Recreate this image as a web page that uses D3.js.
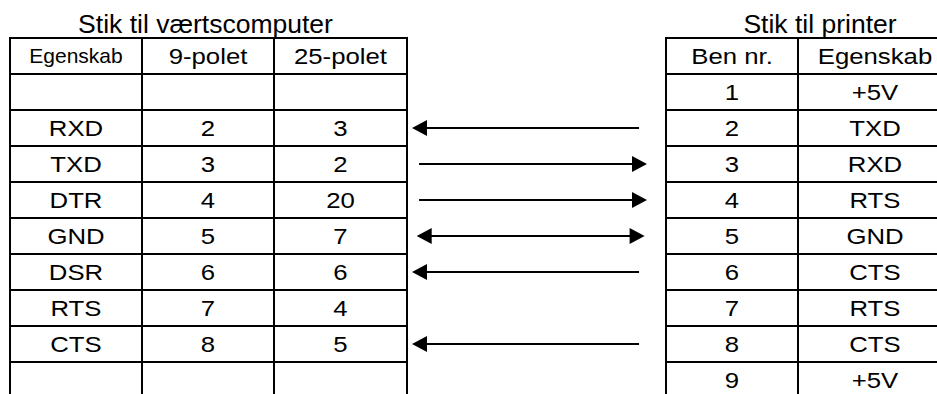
<!DOCTYPE html>
<html>
<head>
<meta charset="utf-8">
<script src="https://cdn.jsdelivr.net/npm/d3@7"></script>
<style>
  html, body { margin: 0; padding: 0; background: #fff; }
  svg { display: block; }
  text { font-family: "Liberation Sans", Arial, sans-serif; fill: #000; }
</style>
</head>
<body>
<svg id="chart" width="937" height="394"></svg>
<script>
// ---- data ----
const hostTitle = "Stik til værtscomputer";
const printerTitle = "Stik til printer";
const hostHeaders = ["Egenskab", "9-polet", "25-polet"];
const printerHeaders = ["Ben nr.", "Egenskab"];
const hostProps = ["", "RXD", "TXD", "DTR", "GND", "DSR", "RTS", "CTS", ""];
const hostPin9 = ["", "2", "3", "4", "5", "6", "7", "8", ""];
const hostPin25 = ["", "3", "2", "20", "7", "6", "4", "5", ""];
const printerPins = ["1", "2", "3", "4", "5", "6", "7", "8", "9"];
const printerProps = ["+5V", "TXD", "RXD", "RTS", "GND", "CTS", "RTS", "CTS", "+5V"];
const arrowDirs = ["", "left", "right", "right", "both", "left", "", "left", ""];

// ---- layout ----
const svg = d3.select("#chart");
const nRows = 10; // header + 9 data rows
const y = d3.scaleBand().domain(d3.range(nRows)).range([38, 398]).padding(0);

const hostEdges = [10, 142, 274, 407];
const printerEdges = [666, 798, 952];
const colCenter = (edges, i) => (edges[i] + edges[i + 1]) / 2;

const bodySize = 23, bodySx = 1.12;
const titleSize = 25.5, titleSx = 1.04;
const smallSize = 20, smallSx = 1.05;
const cap = 0.716;

function addText(g, str, cx, cyCenter, size, sx) {
  g.append("text")
    .attr("transform", `translate(${cx},${cyCenter + size * cap / 2}) scale(${sx},1)`)
    .attr("text-anchor", "middle")
    .attr("font-size", size)
    .text(str);
}

function drawTable(edges, headers, columns, headerSizes) {
  const g = svg.append("g");
  const top = y(0), bottom = y.range()[1];
  d3.range(nRows + 1).forEach(i => {
    const yy = i < nRows ? y(i) : bottom;
    g.append("line").attr("x1", edges[0] - 1).attr("x2", edges[edges.length - 1] + 1)
      .attr("y1", yy).attr("y2", yy).attr("stroke", "#000").attr("stroke-width", 2);
  });
  edges.forEach(x => {
    g.append("line").attr("x1", x).attr("x2", x).attr("y1", top - 1).attr("y2", bottom)
      .attr("stroke", "#000").attr("stroke-width", 2);
  });
  headers.forEach((h, c) => {
    const hs = headerSizes[c];
    addText(g, h, colCenter(edges, c), y(0) + y.bandwidth() / 2, hs[0], hs[1]);
  });
  columns.forEach((col, c) => {
    col.forEach((v, r) => {
      if (v) addText(g, v, colCenter(edges, c), y(r + 1) + y.bandwidth() / 2, bodySize, bodySx);
    });
  });
}

// titles
addText(svg, hostTitle, 205.5, 24, titleSize, titleSx);
addText(svg, printerTitle, 820, 24, titleSize, titleSx);

drawTable(hostEdges, hostHeaders, [hostProps, hostPin9, hostPin25],
  [[smallSize, smallSx], [bodySize, bodySx], [bodySize, bodySx]]);
drawTable(printerEdges, printerHeaders, [printerPins, printerProps],
  [[bodySize, bodySx], [bodySize, bodySx]]);

// arrows
const ax = d3.scaleLinear().domain([0, 1]).range([412, 647]);
const headLen = 15, headHalf = 8;
const ag = svg.append("g");
arrowDirs.forEach((d, r) => {
  if (!d) return;
  const cy = y(r + 1) + y.bandwidth() / 2;
  let x1, x2;
  if (d === "left") { x1 = ax(0); x2 = ax(0.966); }
  else if (d === "right") { x1 = ax(0.03); x2 = ax(1); }
  else { x1 = ax(0.02); x2 = ax(0.99); }
  const leftHead = d === "left" || d === "both";
  const rightHead = d === "right" || d === "both";
  ag.append("line")
    .attr("x1", leftHead ? x1 + headLen - 1 : x1)
    .attr("x2", rightHead ? x2 - headLen + 1 : x2)
    .attr("y1", cy).attr("y2", cy)
    .attr("stroke", "#000").attr("stroke-width", 2);
  if (leftHead) {
    ag.append("path")
      .attr("d", `M${x1},${cy} L${x1 + headLen},${cy - headHalf} L${x1 + headLen},${cy + headHalf} Z`)
      .attr("fill", "#000");
  }
  if (rightHead) {
    ag.append("path")
      .attr("d", `M${x2},${cy} L${x2 - headLen},${cy - headHalf} L${x2 - headLen},${cy + headHalf} Z`)
      .attr("fill", "#000");
  }
});
</script>
</body>
</html>
